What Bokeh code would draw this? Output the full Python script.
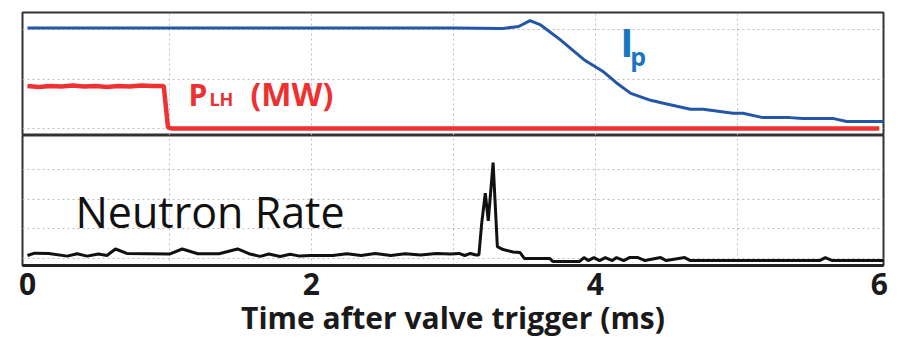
from bokeh.plotting import figure
from bokeh.layouts import column
from bokeh.models import Range1d, FixedTicker
from bokeh.core.properties import value
from bokeh.embed import file_html
from bokeh.resources import INLINE

# --- plasma current (upper panel, arbitrary units) ---
ip_t = [0.0, 0.5, 1.0, 1.5, 2.0, 2.5, 3.0, 3.35, 3.46, 3.54, 3.61, 3.75, 3.92,
        4.06, 4.15, 4.25, 4.39, 4.48, 4.67, 4.76, 4.97, 5.04, 5.18, 5.37, 5.46,
        5.68, 5.77, 6.08]
ip_val = [2.03, 2.03, 2.03, 2.03, 2.03, 2.03, 2.03, 2.02, 2.06, 2.18, 2.10, 1.80,
          1.39, 1.14, 0.92, 0.71, 0.57, 0.51, 0.39, 0.39, 0.31, 0.31, 0.22, 0.22,
          0.20, 0.20, 0.14, 0.14]

# --- lower hybrid power (MW) ---
plh_t = [0.0, 0.08, 0.16, 0.24, 0.32, 0.40, 0.48, 0.56, 0.64, 0.72, 0.80, 0.88,
         0.96, 0.99, 1.02, 6.0]
plh_mw = [0.86, 0.84, 0.86, 0.85, 0.87, 0.85, 0.86, 0.84, 0.86, 0.85, 0.87, 0.86,
          0.86, 0.02, 0.0, 0.0]

# --- neutron rate (lower panel, arbitrary units) ---
nr_t = [0.0, 0.05, 0.15, 0.28, 0.35, 0.42, 0.5, 0.56, 0.62, 0.7, 0.85, 1.0,
        1.09, 1.2, 1.35, 1.48, 1.56, 1.64, 1.7, 1.78, 1.85, 1.92, 1.99, 2.15,
        2.25, 2.35, 2.45, 2.56, 2.66, 2.77, 2.88, 2.98, 3.04, 3.08, 3.12, 3.16,
        3.18, 3.20, 3.225, 3.246, 3.28, 3.31, 3.35, 3.42, 3.47, 3.50, 3.68, 3.70,
        3.89, 3.92, 3.95, 3.99, 4.03, 4.07, 4.12, 4.15, 4.2, 4.24, 4.3, 4.35,
        4.46, 4.5, 4.63, 4.67, 5.58, 5.62, 5.67, 6.06]
nr_val = [0.10, 0.18, 0.17, 0.08, 0.16, 0.08, 0.15, 0.10, 0.32, 0.17, 0.16, 0.15,
          0.32, 0.16, 0.16, 0.32, 0.16, 0.07, 0.15, 0.07, 0.14, 0.08, 0.10, 0.10,
          0.16, 0.10, 0.17, 0.10, 0.16, 0.12, 0.17, 0.15, 0.17, 0.10, 0.17, 0.12,
          0.12, 1.20, 2.20, 1.27, 3.23, 0.40, 0.30, 0.22, 0.20, 0.0, 0.0, -0.10,
          -0.10, 0.03, -0.07, 0.03, -0.07, 0.03, -0.07, 0.03, -0.07, 0.03, 0.03, -0.07,
          0.03, -0.07, 0.03, -0.07, -0.07, 0.03, -0.07, -0.07]

x_ticks = [0, 2, 4, 6]
x_grid = [1, 2, 3, 4, 5]

FONT = "Open Sans"
GRID_COLOR = "#bdbdbd"
FRAME_COLOR = "#333333"

x_range = Range1d(-0.035, 6.03)


def style_panel(p, y_grid):
    p.outline_line_color = FRAME_COLOR
    p.outline_line_width = 2
    p.xgrid.ticker = FixedTicker(ticks=x_grid)
    p.ygrid.ticker = FixedTicker(ticks=y_grid)
    for g in (p.xgrid, p.ygrid):
        g.grid_line_color = GRID_COLOR
        g.grid_line_dash = "2 3"
        g.grid_line_width = 1
    p.background_fill_color = "white"
    p.border_fill_color = "white"


def label(p, x, y, txt, color, size, bold=True, dx=0):
    # baseline-anchored label; the lift compensates for the svg baseline
    p.text(x=[x], y=[y], text=[txt], text_color=color,
           x_offset=dx, y_offset=-0.4 * size,
           text_font=value(FONT), text_font_style="bold" if bold else "normal",
           text_font_size=f"{size}px",
           text_baseline="alphabetic", text_align="left")


# upper panel: Ip and P_LH
top = figure(width=898, height=135, x_range=x_range, y_range=Range1d(-0.141, 2.343),
             output_backend="svg", toolbar_location=None,
             x_axis_location=None, y_axis_location=None,
             min_border_left=22, min_border_right=15, min_border_top=12,
             min_border_bottom=0)
style_panel(top, [0, 1, 2])

top.line(ip_t, ip_val, line_color="#2356a6", line_width=3)
top.line(plh_t, plh_mw, line_color="#ee3232", line_width=4.5)

red = "#ee3030"
label(top, 1.134, 0.444, "P", red, 30)
label(top, 1.134, 0.444, "LH", red, 18, dx=21)
label(top, 1.134, 0.444, "(MW)", red, 32, dx=62)

blue = "#1b76c0"
label(top, 4.176, 1.434, "I", blue, 40)
label(top, 4.246, 1.253, "p", blue, 25)

# lower panel: neutron rate with time axis
bot = figure(width=898, height=212, x_range=x_range, y_range=Range1d(-0.236, 4.14),
             output_backend="svg", toolbar_location=None,
             y_axis_location=None,
             min_border_left=22, min_border_right=15, min_border_top=0,
             min_border_bottom=82)
style_panel(bot, [0, 1, 2, 3])

bot.line(nr_t, nr_val, line_color="#111111", line_width=3)
label(bot, 0.338, 1.01, "Neutron Rate", "#111111", 43, bold=False)

ax = bot.xaxis[0]
ax.ticker = FixedTicker(ticks=x_ticks)
ax.axis_line_color = "#222222"
ax.axis_line_width = 3
ax.major_tick_line_color = None
ax.minor_tick_line_color = None
ax.major_label_text_font = FONT
ax.major_label_text_font_style = "bold"
ax.major_label_text_font_size = "30px"
ax.major_label_text_color = "#1a1a1a"
ax.major_label_standoff = 1
ax.axis_label = "Time after valve trigger (ms)"
ax.axis_label_text_font = FONT
ax.axis_label_text_font_style = "bold"
ax.axis_label_text_font_size = "30px"
ax.axis_label_text_color = "#1a1a1a"
ax.axis_label_standoff = -1

layout = column(top, bot, spacing=0)

open("out.html", "w").write(file_html(layout, INLINE))
